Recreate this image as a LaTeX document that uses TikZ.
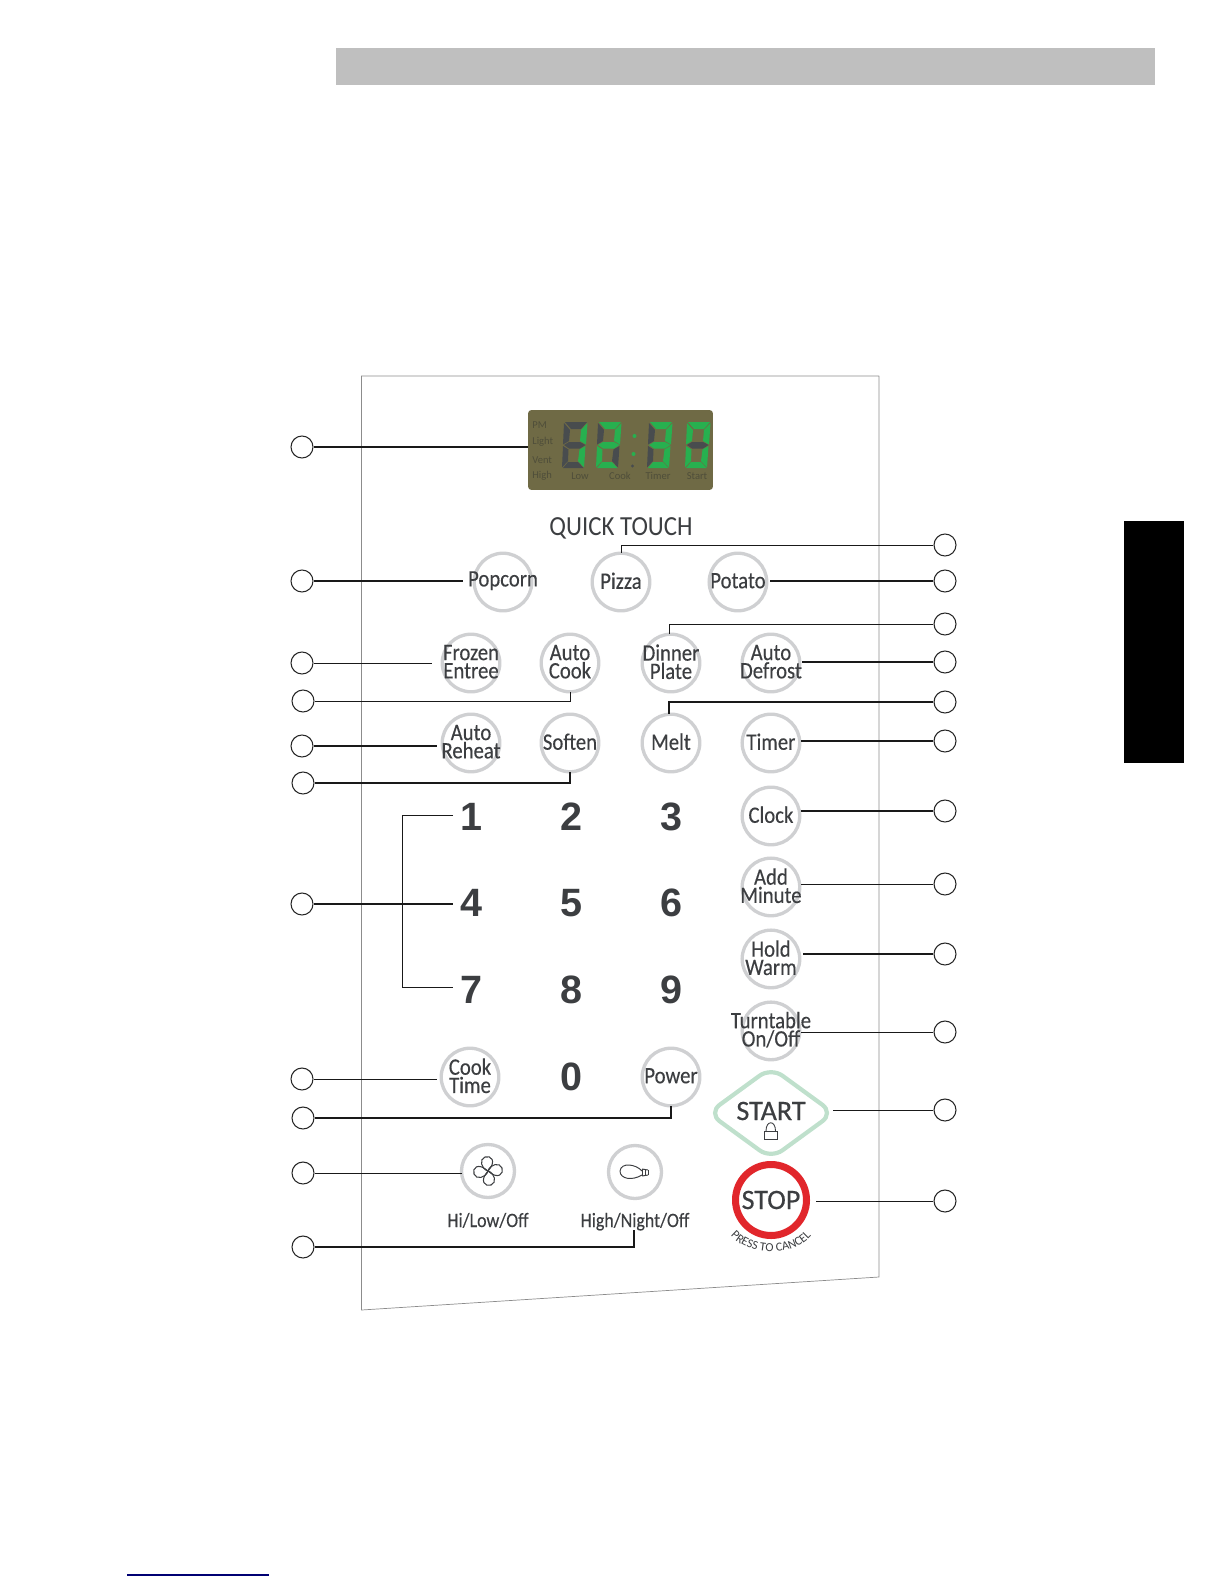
\documentclass[tikz,border=0pt]{standalone}
\usepackage{fontspec}
\setmainfont{Carlito}
\newfontfamily\digitfont{Liberation Sans}
\newfontfamily\keyfont[FakeStretch=0.88,FakeBold=0.3]{Carlito}
\newfontfamily\plainfont[FakeStretch=0.9]{Carlito}
\newfontfamily\bigfont[FakeBold=0.5]{Carlito}
\usetikzlibrary{shapes.geometric,positioning,calc,decorations.text}

\definecolor{inkgray}{HTML}{3C3E41}
\definecolor{ringgray}{HTML}{CFD0D2}
\definecolor{lcdbg}{HTML}{6F6A45}
\definecolor{lcdon}{HTML}{27B04F}
\definecolor{lcdoff}{HTML}{484C4E}
\definecolor{lcdtext}{HTML}{4F4E3A}
\definecolor{startgreen}{HTML}{BFE0CC}
\definecolor{stopred}{HTML}{E1262B}

% one lcd digit: x, then top, upper left, upper right, middle, lower left, lower right, bottom
\newcommand{\lcddigit}[8]{%
  \begin{scope}[shift={(#1,422)}]
    \fill[#2] (3,0) -- (25,0) -- (19,7) -- (9,7) -- cycle;
    \fill[#3] (2,1) -- (8,8) -- (7,19) -- (1,22.5) -- cycle;
    \fill[#4] (25.5,1) -- (24,22.5) -- (18,19) -- (19,8) -- cycle;
    \fill[#5] (2,23) -- (7,20) -- (18,20) -- (23.5,23) -- (18,26.5) -- (7,26.5) -- cycle;
    \fill[#6] (1,24) -- (6.5,27.5) -- (6,39) -- (0,45.5) -- cycle;
    \fill[#7] (23.5,24) -- (22,45.5) -- (16,39) -- (17.5,27.5) -- cycle;
    \fill[#8] (1,46) -- (6,40) -- (16,40) -- (21.5,46) -- cycle;
  \end{scope}}

\begin{document}
\begin{tikzpicture}[
  x=0.02cm, y=-0.02cm,
  keytext/.style={font=\keyfont\fontsize{13.4}{10.4}\selectfont, text=inkgray, align=center, inner sep=0pt},
  key/.style={circle, draw=ringgray, line width=1.9pt, minimum size=1.152cm, inner sep=0pt, outer sep=0pt,
              label={[keytext, yshift=0.025cm]center:#1}},
  iconkey/.style={circle, draw=ringgray, line width=1.9pt, minimum size=1.06cm, inner sep=0pt, outer sep=0pt},
  iconlbl/.style={keytext, font=\keyfont\fontsize{11.6}{14}\selectfont},
  digitkey/.style={font=\digitfont\bfseries\fontsize{22.5}{24}\selectfont, text=inkgray, inner sep=0pt},
  callout/.style={circle, draw=black!85, line width=0.6pt, fill=white, minimum size=0.44cm, inner sep=0pt},
  lcdlabel/.style={font=\fontsize{6}{7}\selectfont, text=lcdtext, inner sep=0pt},
  heavy/.style={draw=black!90, line width=1pt},
  light/.style={draw=black!90, line width=0.5pt},
  panel/.style={draw=black!45, line width=0.4pt},
]
\useasboundingbox (0,0) rectangle (1224,1584);

% page furniture
\fill[black!25] (336,48) rectangle (1155,85);
\fill[black] (1124,521) rectangle (1184,763);
\draw[blue!45!black, line width=0.8pt] (127,1575) -- (269,1575);

% panel outline
\coordinate (p1) at (361.5,376);
\coordinate (p2) at (879,376);
\coordinate (p3) at (879,1277);
\coordinate (p4) at (361.5,1310);
\draw[panel] (p2) -- (p1) -- (p4) -- (p3) -- (p2);

% display
\node[rectangle, fill=lcdbg, rounded corners=2pt, minimum width=3.7cm, minimum height=1.6cm, inner sep=0pt] (lcd) at (620.5,450) {};
\lcddigit{562}{lcdoff}{lcdoff}{lcdon}{lcdoff}{lcdoff}{lcdon}{lcdoff}
\lcddigit{596}{lcdon}{lcdoff}{lcdon}{lcdon}{lcdon}{lcdoff}{lcdon}
\lcddigit{647}{lcdon}{lcdoff}{lcdon}{lcdon}{lcdoff}{lcdon}{lcdon}
\lcddigit{685}{lcdon}{lcdon}{lcdon}{lcdoff}{lcdon}{lcdon}{lcdon}
\fill[lcdon] (634.5,436) circle (2);
\fill[lcdon] (633.5,454) circle (2);
\fill[lcdoff] (632.5,466) circle (1.6);
\node[lcdlabel, anchor=west] (pm) at (532,425) {PM};
\node[lcdlabel, anchor=west] (lgt) at (532,442) {Light};
\node[lcdlabel, anchor=west] (vnt) at (532,460) {Vent};
\node[lcdlabel, anchor=west] (hgh) at (532,476) {High};
\node[lcdlabel] (low) at (580,476) {Low};
\node[lcdlabel] (cok) at (620,476) {Cook};
\node[lcdlabel] (tmr) at (658,476) {Timer};
\node[lcdlabel] (srt) at (697,476) {Start};

\node[font=\plainfont\fontsize{15.7}{17}\selectfont, text=inkgray, inner sep=0pt] (quick) at (621,528) {QUICK TOUCH};

% keys
\node[key={Popcorn}] (popcorn) at (503,582) {};
\node[key={Pizza}, right=1.208cm of popcorn] (pizza) {};
\node[key={Potato}, right=1.188cm of pizza] (potato) {};

\node[key={Frozen\\Entree}] (frozen) at (471,663) {};
\node[key={Auto\\Cook}, right=0.828cm of frozen] (autocook) {};
\node[key={Dinner\\Plate}, right=0.868cm of autocook] (dinner) {};
\node[key={Auto\\Defrost}, right=0.848cm of dinner] (defrost) {};

\node[key={Auto\\Reheat}, below=0.448cm of frozen] (reheat) {};
\node[key={Soften}, below=0.448cm of autocook] (soften) {};
\node[key={Melt}, below=0.448cm of dinner] (melt) {};
\node[key={Timer}, below=0.448cm of defrost] (timer) {};
\node[key={Clock}, below=0.308cm of timer] (clock) {};
\node[key={Add\\Minute}, below=0.268cm of clock] (addmin) {};
\node[key={Hold\\Warm}, below=0.288cm of addmin] (hold) {};
\node[key={Turntable\\On/Off}, below=0.288cm of hold] (turn) {};

\node[digitkey] (k1) at (471,817) {1};
\node[digitkey] (k2) at (571,817) {2};
\node[digitkey] (k3) at (671,817) {3};
\node[digitkey] (k4) at (471,903) {4};
\node[digitkey] (k5) at (571,903) {5};
\node[digitkey] (k6) at (671,903) {6};
\node[digitkey] (k7) at (471,990) {7};
\node[digitkey] (k8) at (571,990) {8};
\node[digitkey] (k9) at (671,990) {9};
\node[digitkey] (k0) at (571,1077) {0};

\node[key={Cook\\Time}] (cooktime) at (470,1077) {};
\node[key={Power}] (power) at (671,1077) {};
\node[iconkey] (fan) at (488,1171) {};
\node[iconkey] (bulb) at (635,1172) {};
\node[iconlbl, below=0.3cm of fan] (fanlbl) {Hi/Low/Off};
\node[iconlbl, below=0.28cm of bulb] (bulblbl) {High/Night/Off};

% fan blades
\foreach \a in {0,90,180,270}
  \draw[inkgray, line width=0.6pt, shift={(fan.center)}, rotate=\a]
    (0,0) .. controls (-7,-2) and (-9,-12) .. (-3,-14) .. controls (3,-16) and (9,-10) .. (0,0);

% bulb
\begin{scope}[shift={(bulb.center)}]
  \draw[inkgray, line width=0.55pt] (7,-1) .. controls (1,-8) and (-14,-10) .. (-15,-1)
    .. controls (-15,7) and (-3,9) .. (7,3);
  \draw[inkgray, line width=0.55pt] (7,-3) -- (7,4) (10,-3) -- (10,4) (13,-2) -- (13,3);
  \draw[inkgray, line width=0.55pt] (7,-3) -- (13,-2) (7,4) -- (13,3);
\end{scope}

% start
\node[diamond, aspect=1.36, draw=startgreen, line width=2.4pt, rounded corners=8pt, minimum width=2.54cm,
      minimum height=1.86cm, inner sep=0pt] (start) at (771,1113) {};
\node[font=\bigfont\fontsize{16}{20}\selectfont, text=inkgray, inner sep=0pt] (starttxt) at (771,1111) {START};
\draw[inkgray, line width=0.5pt] (764.5,1131) rectangle (777,1139);
\draw[inkgray, line width=0.5pt] (766,1131) .. controls (766,1120) and (775.5,1120) .. (775.5,1131);

% stop
\node[circle, draw=stopred, line width=4pt, minimum size=1.42cm, inner sep=0pt] (stop) at (771,1200) {};
\node[font=\bigfont\fontsize{16}{20}\selectfont, text=inkgray, inner sep=0pt] (stoptxt) at (771,1200) {STOP};
\path[decorate, decoration={text along path, text align={align=center},
      text={|\fontsize{7}{8}\selectfont\color{inkgray}|PRESS TO CANCEL}}]
  (731,1236) .. controls (750,1257) and (792,1257) .. (811,1236);

% callouts, left side
\node[callout] (c1) at (302,447) {};
\node[callout] (c2) at (302,581) {};
\node[callout] (c3) at (302,663) {};
\node[callout] (c4) at (303,701) {};
\node[callout] (c5) at (302,746) {};
\node[callout] (c6) at (303,783) {};
\node[callout] (c7) at (302,904) {};
\node[callout] (c8) at (302,1079) {};
\node[callout] (c9) at (303,1118) {};
\node[callout] (c10) at (303,1173) {};
\node[callout] (c11) at (303,1247) {};

% callouts, right side
\node[callout] (r1) at (945,545) {};
\node[callout] (r2) at (945,581) {};
\node[callout] (r3) at (945,624) {};
\node[callout] (r4) at (945,662) {};
\node[callout] (r5) at (945,702) {};
\node[callout] (r6) at (945,741) {};
\node[callout] (r7) at (945,811) {};
\node[callout] (r8) at (945,884) {};
\node[callout] (r9) at (945,954) {};
\node[callout] (r10) at (945,1032) {};
\node[callout] (r11) at (945,1110) {};
\node[callout] (r12) at (945,1201) {};

% free ends of the leaders
\coordinate (e2) at (463,581);
\coordinate (e3) at (432,663);
\coordinate (e5) at (437,746);
\coordinate (e7) at (453,904);
\coordinate (e8) at (437,1079);
\coordinate (b1) at (453,815);
\coordinate (b2) at (453,987);
\coordinate (b3) at (402,815);
\coordinate (b4) at (402,987);
\coordinate (f2) at (770,581);
\coordinate (f4) at (802,662);
\coordinate (f6) at (801,741);
\coordinate (f7) at (801,811);
\coordinate (f8) at (801,884);
\coordinate (f9) at (803,954);
\coordinate (f10) at (801,1032);
\coordinate (f11) at (833,1110);
\coordinate (f12) at (816,1201);
\coordinate (g1) at (634,1230);

\draw[heavy] (c1) -- (c1 -| lcd.west);
\draw[heavy] (c2) -- (e2);
\draw[light] (c3) -- (e3);
\draw[light] (c4) -| (autocook.south);
\draw[heavy] (c5) -- (e5);
\draw[heavy] (c6) -| (soften.south);
\draw[heavy] (c7) -- (e7);
\draw[light] (b1) -- (b3) -- (b4) -- (b2);
\draw[light] (c8) -- (e8);
\draw[heavy] (c9) -| (power.south);
\draw[light] (c10) -- (c10 -| fan.west);
\draw[heavy] (c11) -| (g1);

\draw[light] (r1) -| (pizza.north);
\draw[heavy] (r2) -- (f2);
\draw[light] (r3) -| ([xshift=-0.04cm]dinner.north);
\draw[heavy] (r4) -- (f4);
\draw[heavy] (r5) -| ([xshift=-0.04cm]melt.north);
\draw[heavy] (r6) -- (f6);
\draw[heavy] (r7) -- (f7);
\draw[light] (r8) -- (f8);
\draw[heavy] (r9) -- (f9);
\draw[light] (r10) -- (f10);
\draw[light] (r11) -- (f11);
\draw[light] (r12) -- (f12);

\end{tikzpicture}
\end{document}
